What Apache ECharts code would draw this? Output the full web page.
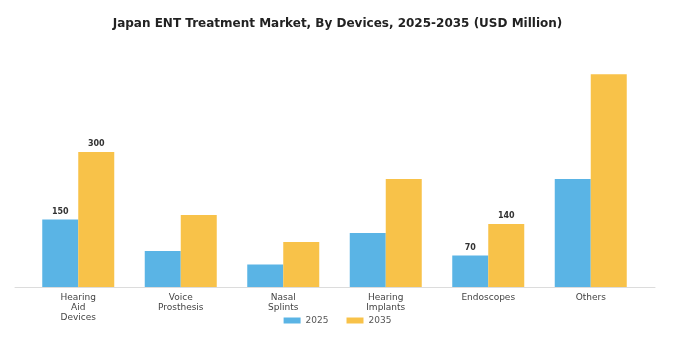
<!DOCTYPE html>
<html><head><meta charset="utf-8">
<script src="https://cdn.jsdelivr.net/npm/echarts@6/dist/echarts.min.js"></script>
<style>html,body{margin:0;padding:0;background:#fff}#c{width:675px;height:355px}</style>
</head><body><div id="c"></div>
<script>
const categories = ["Hearing\nAid\nDevices", "Voice\nProsthesis", "Nasal\nSplints", "Hearing\nImplants", "Endoscopes", "Others"];
const values2025 = [150, 80, 50, 120, 70, 240];
const values2035 = [300, 160, 100, 240, 140, 473];
const labeled = [true, false, false, false, true, false];
const seriesNames = ["2025", "2035"];

const chart = echarts.init(document.getElementById('c'));
const font = 'DejaVu Sans';
function mk(vals) {
  return vals.map((v, i) => ({
    value: v,
    label: { show: labeled[i] }
  }));
}
chart.setOption({
  animation: false,
  title: {
    text: 'Japan ENT Treatment Market, By Devices, 2025-2035 (USD Million)',
    left: 'center', top: 13,
    textStyle: { fontFamily: font, fontWeight: 'bold', fontSize: 12, color: '#222' }
  },
  legend: {
    bottom: 25, left: 'center',
    itemWidth: 17, itemHeight: 6, itemGap: 18,
    icon: 'rect',
    textStyle: { fontFamily: font, fontSize: 9, color: '#555' },
    data: seriesNames
  },
  grid: [
    { left: 27, right: 33, top: 62, bottom: 68 },
    { left: 15, right: 20, top: 62, bottom: 68 }
  ],
  xAxis: [
    {
      type: 'category', data: categories, gridIndex: 0,
      axisLine: { show: false },
      axisTick: { show: false },
      axisLabel: { fontFamily: font, fontSize: 9, color: '#444', lineHeight: 10, margin: 6, interval: 0 }
    },
    {
      type: 'value', gridIndex: 1, min: 0, max: 1,
      axisLine: { show: true, lineStyle: { color: '#dcdcdc', width: 1 } },
      axisTick: { show: false }, axisLabel: { show: false }, splitLine: { show: false }
    }
  ],
  yAxis: [
    { type: 'value', min: 0, max: 500, gridIndex: 0, show: false, splitLine: { show: false } },
    { type: 'value', min: 0, max: 1, gridIndex: 1, show: false, splitLine: { show: false } }
  ],
  series: [
    {
      name: seriesNames[0], type: 'bar', data: mk(values2025), barWidth: 36, barGap: '0%',
      itemStyle: { color: '#5AB4E5' },
      label: { position: 'top', distance: 4, fontFamily: font, fontWeight: 'bold', fontSize: 8, color: '#333' }
    },
    {
      name: seriesNames[1], type: 'bar', data: mk(values2035), barWidth: 36, barGap: '0%',
      itemStyle: { color: '#F8C249' },
      label: { position: 'top', distance: 4, fontFamily: font, fontWeight: 'bold', fontSize: 8, color: '#333' }
    }
  ]
});
</script></body></html>
